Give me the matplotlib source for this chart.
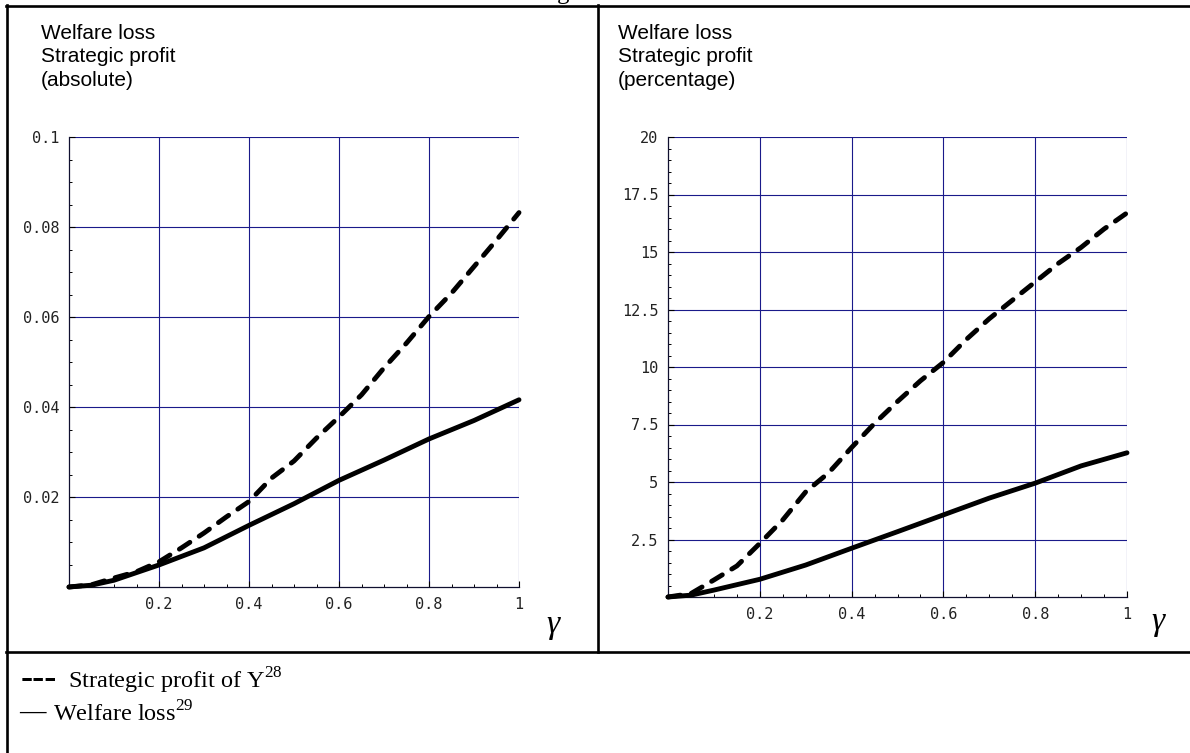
import matplotlib.pyplot as plt
from matplotlib.lines import Line2D
from matplotlib.ticker import MultipleLocator

# values
gamma_dash_abs = [0, 0.05, 0.1, 0.15, 0.2, 0.25, 0.3, 0.35, 0.4, 0.45, 0.5,
                  0.55, 0.6, 0.65, 0.7, 0.75, 0.8, 0.85, 0.9, 0.95, 1.0]
profit_abs = [0, 0.0005, 0.0020, 0.0034, 0.0056, 0.0087, 0.0120, 0.0156, 0.0190, 0.0242, 0.0280,
              0.0331, 0.0378, 0.0427, 0.0487, 0.0542, 0.0601, 0.0653, 0.0712, 0.0771, 0.0832]
gamma_solid_abs = [0, 0.05, 0.1, 0.2, 0.3, 0.4, 0.5, 0.6, 0.7, 0.8, 0.9, 1.0]
welfare_abs = [0, 0.0004, 0.0015, 0.0049, 0.0087, 0.0137, 0.0185, 0.0237, 0.0282, 0.0329, 0.0370, 0.0416]

gamma_dash_pct = [0, 0.05, 0.1, 0.15, 0.2, 0.25, 0.3, 0.35, 0.4, 0.45, 0.5,
                  0.55, 0.6, 0.65, 0.7, 0.75, 0.8, 0.85, 0.9, 0.95, 1.0]
profit_pct = [0, 0.15, 0.74, 1.35, 2.33, 3.35, 4.57, 5.4, 6.5, 7.55, 8.5,
              9.4, 10.2, 11.2, 12.1, 12.9, 13.7, 14.5, 15.2, 16.0, 16.7]
gamma_solid_pct = [0, 0.05, 0.1, 0.2, 0.3, 0.4, 0.5, 0.6, 0.7, 0.8, 0.9, 1.0]
welfare_pct = [0, 0.08, 0.30, 0.77, 1.39, 2.12, 2.84, 3.57, 4.3, 4.95, 5.7, 6.27]

x_ticks = [0.2, 0.4, 0.6, 0.8, 1.0]
x_labels = ["0.2", "0.4", "0.6", "0.8", "1"]
y_ticks_abs = [0.02, 0.04, 0.06, 0.08, 0.1]
y_labels_abs = ["0.02", "0.04", "0.06", "0.08", "0.1"]
y_ticks_pct = [2.5, 5, 7.5, 10, 12.5, 15, 17.5, 20]
y_labels_pct = ["2.5", "5", "7.5", "10", "12.5", "15", "17.5", "20"]

plt.rcParams['lines.scale_dashes'] = False
plt.rcParams['mathtext.fontset'] = 'custom'
plt.rcParams['mathtext.rm'] = 'Liberation Serif'

W, H = 1190, 753
fig = plt.figure(figsize=(W / 100, H / 100), dpi=100)
fig.patch.set_facecolor('white')


def px_rect(x0, x1, ytop, ybot):
    return [x0 / W, 1 - ybot / H, (x1 - x0) / W, (ybot - ytop) / H]


def draw_panel(rect, gd, dash, gs, solid, ymax, yt, yl, ymin_step, header, gpos):
    ax = fig.add_axes(rect)
    ax.set_xlim(0, 1)
    ax.set_ylim(0, ymax)
    ax.set_xticks(x_ticks)
    ax.set_xticklabels(x_labels)
    ax.set_yticks(yt)
    ax.set_yticklabels(yl)
    ax.xaxis.set_minor_locator(MultipleLocator(0.05))
    ax.yaxis.set_minor_locator(MultipleLocator(ymin_step))
    ax.grid(True, which='major', color='#1a1a8a', linewidth=0.8)
    ax.set_axisbelow(True)
    for s in ['top', 'right']:
        ax.spines[s].set_visible(False)
    for s in ['left', 'bottom']:
        ax.spines[s].set_color('#101030')
        ax.spines[s].set_linewidth(0.9)
    ax.tick_params(which='major', direction='in', length=4, width=0.8, color='black')
    ax.tick_params(which='minor', direction='in', length=2.5, width=0.7, color='black')
    ax.tick_params(axis='x', pad=7)
    ax.tick_params(axis='y', pad=7)
    for lab in ax.get_xticklabels() + ax.get_yticklabels():
        lab.set_family('DejaVu Sans Mono')
        lab.set_fontsize(11)
        lab.set_color('#222222')

    ax.plot(gd, dash, color='black', linewidth=3.5, linestyle=(0, (9, 8)),
            dash_capstyle='round', solid_capstyle='round', clip_on=False, zorder=3)
    ax.plot(gs, solid, color='black', linewidth=3.5, solid_capstyle='round',
            clip_on=False, zorder=3)

    fig.text(header[0] / W, 1 - header[1] / H, header[2], family='Liberation Sans',
             fontsize=15, va='top', ha='left', linespacing=1.3)
    fig.text(gpos[0] / W, 1 - gpos[1] / H, "γ", family='Liberation Serif',
             style='italic', fontsize=24, va='center', ha='center')
    return ax


draw_panel(px_rect(69, 519, 137, 587), gamma_dash_abs, profit_abs,
           gamma_solid_abs, welfare_abs, 0.1, y_ticks_abs, y_labels_abs, 0.005,
           (41, 24, "Welfare loss\nStrategic profit\n(absolute)"), (553, 625))
draw_panel(px_rect(668, 1127, 137, 597), gamma_dash_pct, profit_pct,
           gamma_solid_pct, welfare_pct, 20, y_ticks_pct, y_labels_pct, 0.5,
           (618, 24, "Welfare loss\nStrategic profit\n(percentage)"), (1158, 622))

# table borders around the figure
def hline(y, x0, x1):
    fig.add_artist(Line2D([x0 / W, x1 / W], [1 - y / H, 1 - y / H],
                          color='black', linewidth=1.9, transform=fig.transFigure))


def vline(x, y0, y1):
    fig.add_artist(Line2D([x / W, x / W], [1 - y0 / H, 1 - y1 / H],
                          color='black', linewidth=1.9, transform=fig.transFigure))


hline(6, 6, W)
hline(652, 6, W)
vline(7, 5, H)
vline(598, 5, 652)

# bit of the caption above, cut off by the page edge
fig.text(563 / W, 1 + 1.5 / H, "g", family='Liberation Serif', fontsize=18,
         ha='center', va='baseline')

# legend rows below the plots
fig.text(21 / W, 1 - 688 / H, "---", family='Liberation Serif', weight='bold',
         fontsize=26, va='baseline')
fig.text(68 / W, 1 - 688 / H, "Strategic profit of Y$^{\\mathrm{28}}$",
         family='Liberation Serif', fontsize=17.5, va='baseline')
fig.text(19 / W, 1 - 719 / H, "\u2014", family='Liberation Serif', weight='bold',
         fontsize=19, va='baseline')
fig.text(53 / W, 1 - 722 / H, "Welfare loss$^{\\mathrm{29}}$",
         family='Liberation Serif', fontsize=17.5, va='baseline')

fig.savefig('out.png', dpi=100)
